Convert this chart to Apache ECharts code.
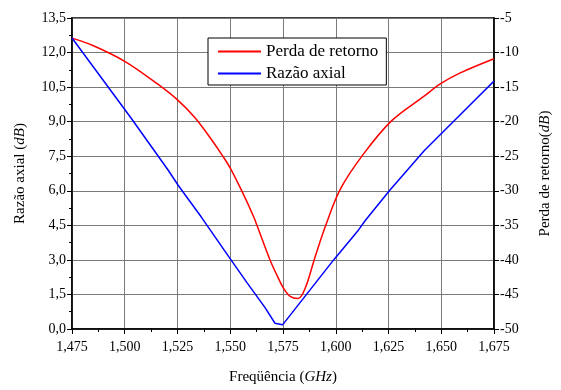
<!DOCTYPE html>
<html>
<head>
<meta charset="utf-8">
<script src="https://cdn.jsdelivr.net/npm/echarts@6/dist/echarts.min.js"></script>
<style>html,body{margin:0;padding:0;background:#fff}#c{width:561px;height:390px}</style>
</head>
<body>
<div id="c"></div>
<script>
const rlFreq = [1.475, 1.4849, 1.500, 1.516, 1.525, 1.5331, 1.5409, 1.5463, 1.5502, 1.5557, 1.5611, 1.5626, 1.5688, 1.572, 1.5751, 1.5782, 1.5821, 1.5856, 1.5898, 1.5953, 1.6023, 1.6131, 1.6264, 1.6419, 1.6497, 1.659, 1.675];
const rlValues = [-7.91, -8.98, -11.27, -14.65, -16.85, -19.36, -22.51, -24.91, -26.82, -30.16, -33.75, -34.96, -39.98, -42.13, -44.04, -45.23, -45.58, -44.04, -39.98, -34.96, -29.69, -24.7, -19.89, -16.30, -14.50, -12.94, -10.89];
const arFreq = [1.475, 1.5028, 1.5207, 1.5253, 1.5362, 1.5487, 1.558, 1.5665, 1.5712, 1.5748, 1.5991, 1.6108, 1.6139, 1.6256, 1.6419, 1.666, 1.675];
const arValues = [12.63, 9.18, 6.88, 6.24, 4.87, 3.22, 2.00, 0.93, 0.25, 0.18, 3.01, 4.30, 4.70, 6.02, 7.74, 9.94, 10.76];
const legendNames = ['Perda de retorno', 'Razão axial'];

const font = 'Liberation Serif, Times New Roman, serif';
const chart = echarts.init(document.getElementById('c'), null, {renderer: 'canvas'});
const axisCommon = {
  axisLine: {show: true, lineStyle: {color: '#000', width: 1.5}},
  axisTick: {show: true, inside: false, length: 5, lineStyle: {color: '#000', width: 1}},
  axisLabel: {color: '#000', fontFamily: font, fontSize: 14},
  splitLine: {show: true, lineStyle: {color: '#7a7a7a', width: 1}},
  nameTextStyle: {color: '#000', fontFamily: font, fontSize: 15}
};
const nameStyle = {color: '#000', fontFamily: font, fontSize: 15, rich: {i: {fontStyle: 'italic', fontFamily: font, fontSize: 15, color: '#000'}}};
chart.setOption({
  animation: false,
  backgroundColor: '#fff',
  grid: {left: 72, right: 60, top: 18, bottom: 58.5, show: true, borderColor: '#000', borderWidth: 1.5, backgroundColor: 'transparent'},
  legend: {
    data: legendNames.map(n => ({name: n, icon: 'rect'})),
    orient: 'vertical', left: 208, top: 38,
    backgroundColor: '#fff', borderColor: '#000', borderWidth: 1,
    padding: [5, 8, 3, 10], itemGap: 5,
    itemWidth: 43, itemHeight: 2,
    textStyle: {color: '#000', fontFamily: font, fontSize: 17, lineHeight: 17}
  },
  xAxis: Object.assign({}, axisCommon, {
    type: 'value', min: 1.475, max: 1.675, interval: 0.025,
    name: 'Freqüência ({i|GHz})', nameLocation: 'middle', nameGap: 41,
    nameTextStyle: nameStyle,
    minorTick: {show: true, splitNumber: 2, length: 3, lineStyle: {color: '#000'}},
    axisLabel: {color: '#000', fontFamily: font, fontSize: 14, margin: 11, formatter: v => v.toFixed(3).replace('.', ',')}
  }),
  yAxis: [
    Object.assign({}, axisCommon, {
      type: 'value', position: 'left', min: 0, max: 13.5, interval: 1.5,
      name: 'Razão axial ({i|dB})', nameLocation: 'middle', nameGap: 44, nameRotate: 90,
      nameTextStyle: nameStyle,
      minorTick: {show: true, splitNumber: 2, length: 3, lineStyle: {color: '#000'}},
      axisLabel: {color: '#000', fontFamily: font, fontSize: 14, margin: 6, formatter: v => v.toFixed(1).replace('.', ',')}
    }),
    Object.assign({}, axisCommon, {
      type: 'value', position: 'right', min: -50, max: -5, interval: 5,
      name: 'Perda de retorno({i|dB})', nameLocation: 'middle', nameGap: 44, nameRotate: 90,
      nameTextStyle: nameStyle,
      splitLine: {show: false},
      axisLabel: {color: '#000', fontFamily: font, fontSize: 14, margin: 6}
    })
  ],
  series: [
    {
      name: legendNames[0], type: 'line', yAxisIndex: 1, showSymbol: false, symbol: 'none',
      smooth: 0.35,
      lineStyle: {color: '#ff0000', width: 1.5}, itemStyle: {color: '#ff0000'},
      data: rlFreq.map((f, i) => [f, rlValues[i]])
    },
    {
      name: legendNames[1], type: 'line', yAxisIndex: 0, showSymbol: false, symbol: 'none',
      lineStyle: {color: '#0000ff', width: 1.5}, itemStyle: {color: '#0000ff'},
      data: arFreq.map((f, i) => [f, arValues[i]])
    }
  ]
});
</script>
</body>
</html>
